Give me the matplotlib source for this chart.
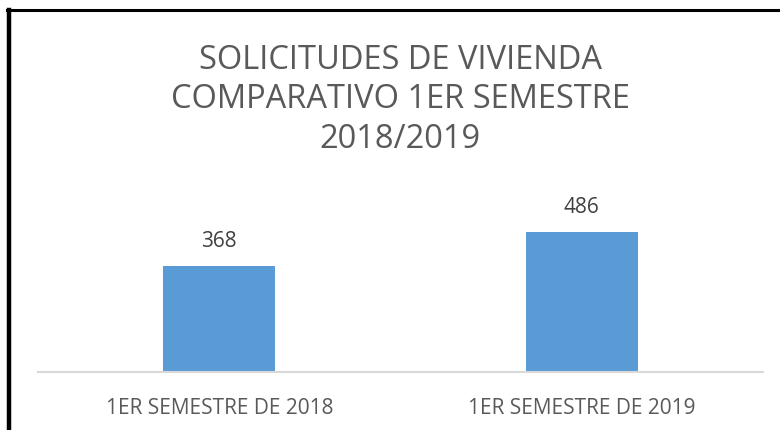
import matplotlib
matplotlib.use('Agg')

import matplotlib.pyplot as plt
from matplotlib.lines import Line2D

categories = ["1ER SEMESTRE DE 2018", "1ER SEMESTRE DE 2019"]
values = [368, 486]
title = "SOLICITUDES DE VIVIENDA\nCOMPARATIVO 1ER SEMESTRE\n2018/2019"

plt.rcParams['font.family'] = ['Open Sans', 'DejaVu Sans']

W, H = 780, 431
fig = plt.figure(figsize=(W / 100, H / 100), dpi=100)
fig.patch.set_facecolor('white')

# plot area in pixels
ax = fig.add_axes([38 / W, 1 - 373 / H, (763 - 38) / W, (373 - 200) / H])
x = list(range(len(categories)))
ax.bar(x, values, width=0.31, color='#5b9bd5', zorder=2)
ax.set_xlim(-0.5, 1.5)
ax.set_ylim(0, 600)

for xi, v in zip(x, values):
    ax.text(xi, v + 50, str(v), ha='center', va='bottom', fontsize=15, color='#404040')

ax.set_xticks(x)
ax.set_xticklabels(categories, fontsize=15, color='#595959')
ax.tick_params(axis='x', length=0, pad=18)
ax.set_yticks([])
for s in ['top', 'right', 'left']:
    ax.spines[s].set_visible(False)
ax.spines['bottom'].set_color('#d9d9d9')
ax.spines['bottom'].set_linewidth(1.5)

fig.text(0.513, 1 - 100 / H, title, ha='center', va='center', fontsize=23.5,
         color='#595959', linespacing=1.25)

# black frame on the left and top
fig.add_artist(Line2D([9 / W, 9 / W], [0, 1 - 11 / H], color='black', linewidth=3.2))
fig.add_artist(Line2D([7 / W, 1], [1 - 11 / H, 1 - 11 / H], color='black', linewidth=2.2))

plt.savefig("out.png", dpi=100)
